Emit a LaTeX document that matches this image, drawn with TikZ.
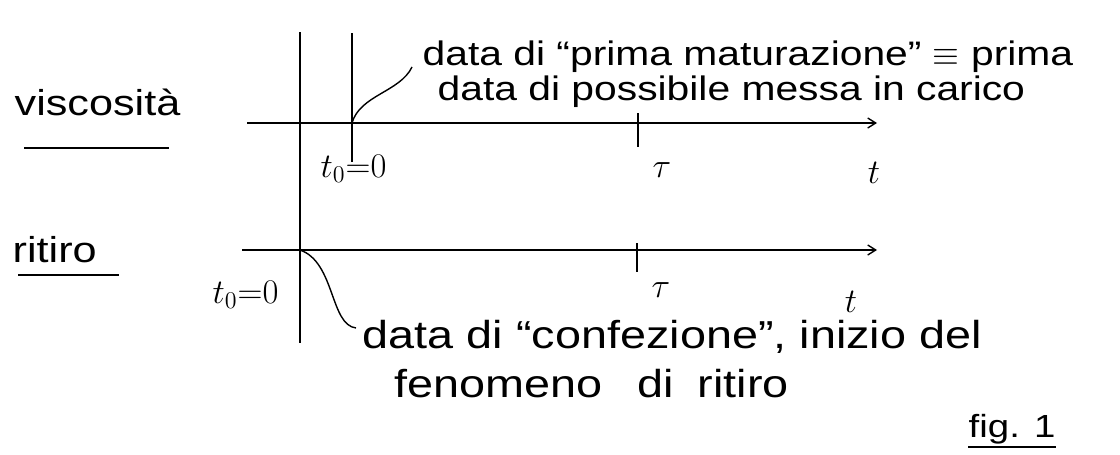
\documentclass[tikz,border=0pt]{standalone}
\usepackage{fontspec}
\setmainfont{Liberation Sans}[FakeStretch=1.2]
\usepackage{tikz}
\usetikzlibrary{arrows.meta,calc}

\begin{document}
\begin{tikzpicture}[x=0.5pt,y=-0.5pt,line width=0.7pt,
    hand/.style={inner sep=0pt,font=\fontsize{18}{18}\selectfont},
    note/.style={inner sep=0pt,align=left},
    axlab/.style={inner sep=0pt,font=\fontsize{18}{18}\selectfont},
    axis/.style={-{Straight Barb[length=4pt,width=5pt]}}]

      \useasboundingbox (0,0) rectangle (1120,455);

      % row labels
      \node[hand,anchor=base west] (visc) at (14,115) {viscosità};
      \draw ([shift={(10,33)}]visc.base west) -- ([shift={(-12,33)}]visc.base east);
      \node[hand,anchor=base west] (rit) at (12,262) {ritiro};
      \draw ([shift={(6,13)}]rit.base west) -- ([shift={(22,13)}]rit.base east);

      % time axes
      \coordinate (o1) at (352,123);
      \coordinate (o2) at (300,250);
      \draw[axis] (247,123) -- (877,123);
      \draw[axis] (242,250) -- (877,250);
      \draw (300,32) -- (300,343);
      \draw (352,33) -- (352,162);
      \draw (638,113) -- (638,147);
      \draw (637,243) -- (637,272);

      % axis labels
      \node[axlab,anchor=base west] (t0a) at (320,177) {$t_0{=}0$};
      \node[axlab,anchor=base] (tau1) at (662,177) {$\tau$};
      \node[axlab,anchor=base] (t1) at (874,183) {$t$};
      \node[axlab,anchor=base west] (t0b) at (212,303) {$t_0{=}0$};
      \node[axlab,anchor=base] (tau2) at (661,297) {$\tau$};
      \node[axlab,anchor=base] (t2) at (851,312) {$t$};

      % notes
      \node[note,anchor=base west,font=\fontsize{17}{17.5}\selectfont] (prima) at (422,100) {
        data di “prima maturazione” $\equiv$ prima\\
        \hspace*{7.5pt}data di possibile messa in carico};
      \node[note,anchor=base west,font=\fontsize{19.5}{17.5}\selectfont] (conf) at (362,397) {
        data di “confezione”, inizio del\\[7pt]
        \hspace*{16pt}fenomeno\hspace{0.9em}di\hspace{0.6em}ritiro};

      \draw (o1) .. controls (360,95) and (400,92) .. ($(prima.base west)+(-10,-33)$);
      \draw (o2) .. controls (335,262) and (330,325) .. ($(conf.base west)+(-6,-69)$);

      % figure number
      \node[hand,anchor=base west,font=\fontsize{16}{16}\selectfont] (fig) at (968,437) {fig. 1};
      \draw ([yshift=-5pt]fig.base west) -- ([yshift=-5pt]fig.base east);

\end{tikzpicture}
\end{document}
